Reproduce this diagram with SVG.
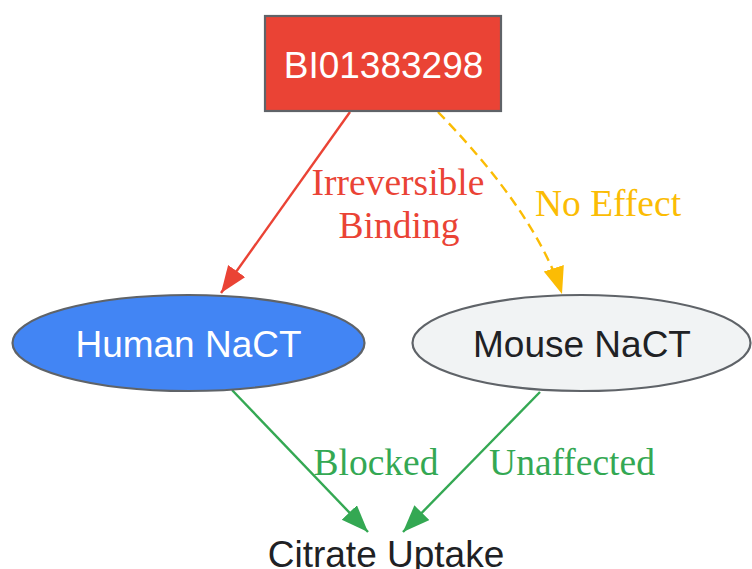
<svg xmlns="http://www.w3.org/2000/svg" width="752" height="569" viewBox="0 0 752 569">
<style>
.node{stroke:#5f6368;stroke-width:2.2}
.nt{font-family:"Liberation Sans",Arial,sans-serif;font-size:37px;text-anchor:middle}
.el{font-family:"Liberation Serif","Times New Roman",serif;font-size:37.5px;text-anchor:middle}
.e{fill:none;stroke-width:2.4}
</style>
<defs>
<marker id="ar" markerUnits="userSpaceOnUse" markerWidth="28" markerHeight="22" refX="27" refY="10.5" orient="auto" viewBox="0 0 28 22"><path d="M0,0 L27,10.5 L0,21 z" fill="#EA4335"/></marker>
<marker id="ay" markerUnits="userSpaceOnUse" markerWidth="28" markerHeight="22" refX="27" refY="10.5" orient="auto" viewBox="0 0 28 22"><path d="M0,0 L27,10.5 L0,21 z" fill="#FBBC04"/></marker>
<marker id="ag" markerUnits="userSpaceOnUse" markerWidth="28" markerHeight="22" refX="27" refY="10.5" orient="auto" viewBox="0 0 28 22"><path d="M0,0 L27,10.5 L0,21 z" fill="#34A853"/></marker>
</defs>
<g id="connectors">
<path class="e" d="M350,112 L221,293" stroke="#EA4335" marker-end="url(#ar)"/>
<path class="e" d="M438,112 C480,155 540,225 562,294" stroke="#FBBC04" stroke-dasharray="10,6" marker-end="url(#ay)"/>
<path class="e" d="M232,390 L368,532" stroke="#34A853" marker-end="url(#ag)"/>
<path class="e" d="M540,392 L403,532" stroke="#34A853" marker-end="url(#ag)"/>
<text class="el" x="398" y="195" fill="#EA4335">Irreversible</text>
<text class="el" x="399" y="238" fill="#EA4335">Binding</text>
<text class="el" x="608" y="216" fill="#FBBC04">No Effect</text>
<text class="el" x="376" y="475" fill="#34A853">Blocked</text>
<text class="el" x="572" y="475" fill="#34A853">Unaffected</text>
</g>
<g id="bi01383298">
<rect class="node" x="265" y="16" width="236" height="95" fill="#EA4335"/>
<text class="nt" x="383.5" y="78" fill="#ffffff">BI01383298</text>
</g>
<g id="human_nact">
<ellipse class="node" cx="188.5" cy="343" rx="176" ry="48" fill="#4285F4"/>
<text class="nt" x="188.5" y="357" fill="#ffffff">Human NaCT</text>
</g>
<g id="mouse_nact">
<ellipse class="node" cx="581.5" cy="343" rx="169" ry="48" fill="#F1F3F4"/>
<text class="nt" x="582" y="357" fill="#202124">Mouse NaCT</text>
</g>
<g id="citrate_uptake">
<text class="nt" x="386" y="567" fill="#202124">Citrate Uptake</text>
</g>
</svg>
